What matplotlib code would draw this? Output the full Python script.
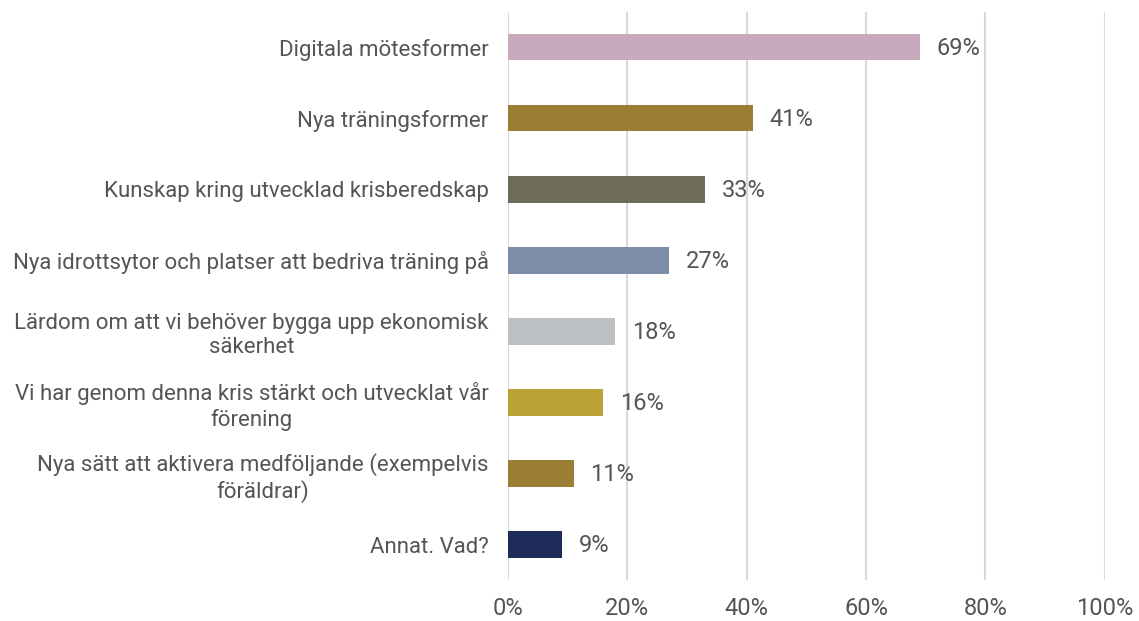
import matplotlib
matplotlib.use("Agg")
import matplotlib.pyplot as plt
from matplotlib.ticker import FuncFormatter

plt.rcParams["font.family"] = ["Roboto", "DejaVu Sans"]

# svarsalternativ (uppifrån och ned)
labels = [
    "Digitala mötesformer",
    "Nya träningsformer",
    "Kunskap kring utvecklad krisberedskap",
    "Nya idrottsytor och platser att bedriva träning på",
    "Lärdom om att vi behöver bygga upp ekonomisk\nsäkerhet",
    "Vi har genom denna kris stärkt och utvecklat vår\nförening",
    "Nya sätt att aktivera medföljande (exempelvis\nföräldrar)",
    "Annat. Vad?",
]
values = [69, 41, 33, 27, 18, 16, 11, 9]
colors = ["#C9A9BE", "#9A7E33", "#6E6C59", "#7D8DAA",
          "#BEC1C4", "#BBA234", "#9A7E34", "#1C2B58"]
ticks = [0, 20, 40, 60, 80, 100]

text_col = "#555555"

fig = plt.figure(figsize=(11.39, 6.21), dpi=100)
ax = fig.add_axes([0.446, 0.066, 0.524, 0.915])

pos = list(range(len(values)))
ax.barh(pos, values, height=0.37, color=colors, zorder=3)

for p, v in zip(pos, values):
    ax.text(v + 2.8, p + 0.02, f"{v}%", va="center", ha="left",
            fontsize=17, color=text_col, zorder=4)

ax.set_ylim(len(values) - 0.5, -0.5)
ax.set_xlim(0, 100)
ax.set_xticks(ticks)
ax.xaxis.set_major_formatter(FuncFormatter(lambda x, _: f"{x:.0f}%"))
ax.set_yticks(pos)
ax.set_yticklabels(labels, multialignment="center")

ax.tick_params(axis="x", length=0, pad=12, labelsize=17, labelcolor=text_col)
ax.tick_params(axis="y", length=0, pad=14, labelsize=16, labelcolor=text_col)

ax.grid(axis="x", color="#D9D9D9", linewidth=1.5, zorder=0)
for s in ax.spines.values():
    s.set_visible(False)

fig.savefig("out.png", dpi=100, facecolor="white")
